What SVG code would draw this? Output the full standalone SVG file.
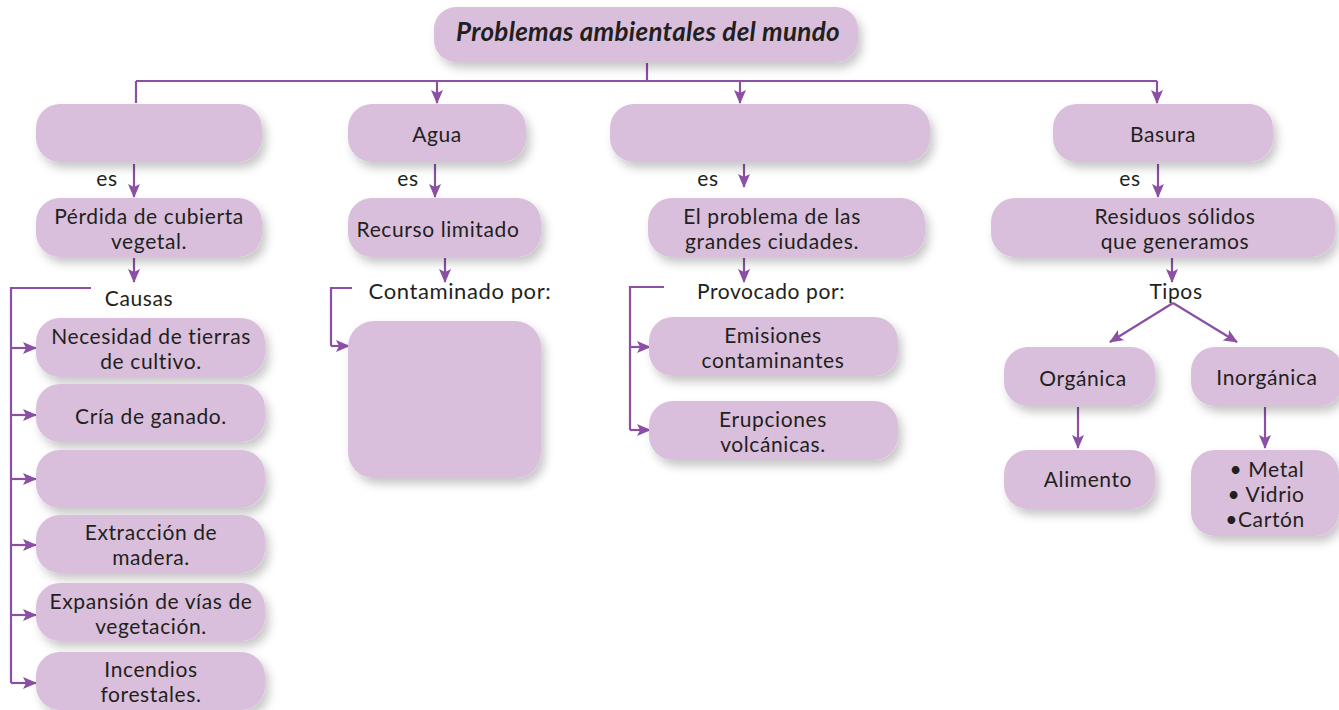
<svg xmlns="http://www.w3.org/2000/svg" width="1339" height="710" viewBox="0 0 1339 710">
<style>
.box{fill:#d9bfdc;filter:url(#sh);}
.t{font-family:Lato,"Open Sans",sans-serif;font-size:21px;letter-spacing:0.6px;fill:#231f20;text-anchor:middle;dominant-baseline:central;}
.ti{font-family:Lato,"Open Sans",sans-serif;font-size:26px;letter-spacing:0.3px;font-weight:bold;font-style:italic;fill:#231f20;text-anchor:middle;dominant-baseline:central;}
.c{fill:none;stroke:#8b4fa3;stroke-width:2.2;}
.a{fill:none;stroke:#8b4fa3;stroke-width:2.2;marker-end:url(#ah);}
</style>
<defs>
<filter id="sh" x="-20%" y="-30%" width="150%" height="180%">
<feDropShadow dx="4" dy="6" stdDeviation="5" flood-color="#000" flood-opacity="0.22"/>
</filter>
<marker id="ah" markerUnits="userSpaceOnUse" markerWidth="14" markerHeight="14" viewBox="0 0 14 14" refX="13" refY="7" orient="auto">
<path d="M0,1 L14,7 L0,13 L3,7 Z" fill="#8b4fa3"/>
</marker>
</defs>
<rect width="1339" height="710" fill="#ffffff"/>

<g id="connectors">
<path class="c" d="M647,63 V81 M136,81 H1157 M136,81 V103"/>
<path class="a" d="M437,81 V103"/>
<path class="a" d="M740,81 V103"/>
<path class="a" d="M1157,81 V103"/>
<path class="a" d="M134,164 V197"/>
<path class="a" d="M435,164 V197"/>
<path class="a" d="M744,164 V187"/>
<path class="a" d="M1158,164 V197"/>
<path class="a" d="M134,258 V282"/>
<path class="a" d="M445,258 V282"/>
<path class="a" d="M744,258 V282"/>
<path class="a" d="M1172,258 V282"/>
<path class="c" d="M91,288 H11 V683"/>
<path class="a" d="M11,348 H36"/>
<path class="a" d="M11,415 H36"/>
<path class="a" d="M11,479 H36"/>
<path class="a" d="M11,545 H36"/>
<path class="a" d="M11,615 H36"/>
<path class="a" d="M11,683 H36"/>
<path class="c" d="M352,288 H331 V346"/>
<path class="a" d="M331,346 H349"/>
<path class="c" d="M664,287 H630 V430"/>
<path class="a" d="M630,347 H650"/>
<path class="a" d="M630,430 H650"/>
<path class="a" d="M1173,303 L1110,342"/>
<path class="a" d="M1173,303 L1237,342"/>
<path class="a" d="M1078,407 V448"/>
<path class="a" d="M1265,407 V448"/>
</g>

<g id="n-title"><rect class="box" x="434" y="7" width="424" height="55" rx="22"/><text class="ti" x="648" y="31">Problemas ambientales del mundo</text></g>

<g id="n-suelo"><rect class="box" x="36" y="104" width="226" height="58" rx="24"/></g>
<g id="n-agua"><rect class="box" x="348" y="104" width="178" height="58" rx="24"/><text class="t" x="437" y="133">Agua</text></g>
<g id="n-aire"><rect class="box" x="610" y="104" width="320" height="58" rx="24"/></g>
<g id="n-basura"><rect class="box" x="1053" y="104" width="220" height="58" rx="24"/><text class="t" x="1163" y="133">Basura</text></g>

<g id="l-es"><text class="t" x="107" y="177">es</text><text class="t" x="408" y="177">es</text><text class="t" x="708" y="177">es</text><text class="t" x="1130" y="177">es</text></g>

<g id="n-perdida"><rect class="box" x="36" y="198" width="226" height="59" rx="24"/><text class="t" x="149" y="215">Pérdida de cubierta</text><text class="t" x="149" y="240">vegetal.</text></g>
<g id="n-recurso"><rect class="box" x="348" y="198" width="193" height="59" rx="24"/><text class="t" x="438" y="228">Recurso limitado</text></g>
<g id="n-ciudades"><rect class="box" x="648" y="198" width="277" height="59" rx="24"/><text class="t" x="772" y="215">El problema de las</text><text class="t" x="772" y="240">grandes ciudades.</text></g>
<g id="n-residuos"><rect class="box" x="991" y="198" width="344" height="59" rx="24"/><text class="t" x="1175" y="215">Residuos sólidos</text><text class="t" x="1175" y="240">que generamos</text></g>

<g id="l-mid"><text class="t" x="139" y="297">Causas</text><text class="t" x="460" y="290" style="font-size:22px">Contaminado por:</text><text class="t" x="771" y="290">Provocado por:</text><text class="t" x="1176" y="290">Tipos</text></g>

<g id="n-c1"><rect class="box" x="36" y="318" width="229" height="59" rx="24"/><text class="t" x="151" y="335">Necesidad de tierras</text><text class="t" x="151" y="360">de cultivo.</text></g>
<g id="n-c2"><rect class="box" x="36" y="384" width="229" height="58" rx="24"/><text class="t" x="151" y="415">Cría de ganado.</text></g>
<g id="n-c3"><rect class="box" x="36" y="450" width="229" height="58" rx="24"/></g>
<g id="n-c4"><rect class="box" x="36" y="515" width="229" height="58" rx="24"/><text class="t" x="151" y="531">Extracción de</text><text class="t" x="151" y="556">madera.</text></g>
<g id="n-c5"><rect class="box" x="36" y="583" width="229" height="58" rx="24"/><text class="t" x="151" y="600">Expansión de vías de</text><text class="t" x="151" y="625">vegetación.</text></g>
<g id="n-c6"><rect class="box" x="36" y="652" width="229" height="58" rx="24"/><text class="t" x="151" y="668">Incendios</text><text class="t" x="151" y="693">forestales.</text></g>

<g id="n-contaminantes"><rect class="box" x="348" y="321" width="193" height="157" rx="26"/></g>

<g id="n-emisiones"><rect class="box" x="649" y="317" width="249" height="59" rx="24"/><text class="t" x="773" y="334">Emisiones</text><text class="t" x="773" y="359">contaminantes</text></g>
<g id="n-erupciones"><rect class="box" x="649" y="401" width="249" height="59" rx="24"/><text class="t" x="773" y="418">Erupciones</text><text class="t" x="773" y="443">volcánicas.</text></g>

<g id="n-organica"><rect class="box" x="1004" y="347" width="151" height="59" rx="24"/><text class="t" x="1083" y="377">Orgánica</text></g>
<g id="n-inorganica"><rect class="box" x="1191" y="347" width="152" height="59" rx="24"/><text class="t" x="1267" y="376">Inorgánica</text></g>
<g id="n-alimento"><rect class="box" x="1004" y="450" width="151" height="59" rx="24"/><text class="t" x="1088" y="478">Alimento</text></g>
<g id="n-materiales"><rect class="box" x="1191" y="450" width="148" height="86" rx="24"/><text class="t" x="1267" y="468">• Metal</text><text class="t" x="1266" y="493">• Vidrio</text><text class="t" x="1265" y="518">•Cartón</text></g>
</svg>
